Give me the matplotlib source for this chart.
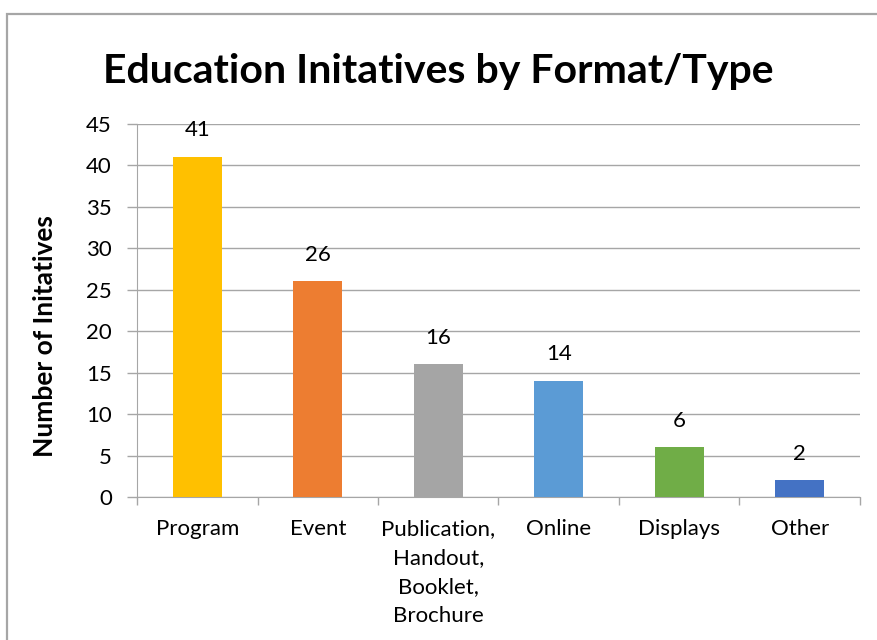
import matplotlib
matplotlib.use("Agg")
from matplotlib import pyplot as plt
from matplotlib.patches import Rectangle

# Dati
categorie = ["Program", "Event", "Publication,\nHandout,\nBooklet,\nBrochure", "Online", "Displays", "Other"]
valori = [41, 26, 16, 14, 6, 2]
colori = ["#FFC000", "#ED7D31", "#A5A5A5", "#5B9BD5", "#70AD47", "#4472C4"]
y_ticks = [0, 5, 10, 15, 20, 25, 30, 35, 40, 45]


def main() -> None:
    plt.rcParams["font.family"] = ["Lato", "DejaVu Sans"]

    fig = plt.figure(figsize=(8.78, 6.4), dpi=100)
    ax = fig.add_axes([137 / 878, 143 / 640, 723 / 878, 373 / 640])

    # Cornice del grafico
    fig.patches.append(Rectangle((7 / 878, -0.1), 1.2, 1.1 - 14 / 640, transform=fig.transFigure,
                                 fill=False, edgecolor="#A6A6A6", linewidth=1.6))

    x = list(range(len(categorie)))
    barre = ax.bar(x, valori, width=0.405, color=colori, zorder=3)
    for b, v in zip(barre, valori):
        ax.annotate(str(v), (b.get_x() + b.get_width() / 2, v), xytext=(0, 12),
                    textcoords="offset points", ha="center", va="bottom", fontsize=16)

    ax.set_xlim(-0.5, len(categorie) - 0.5)
    ax.set_ylim(0, 45)
    ax.set_yticks(y_ticks)
    ax.set_xticks([i - 0.5 for i in range(len(categorie) + 1)], minor=False)
    ax.set_xticklabels([])
    ax.set_xticks(x, minor=True)
    ax.set_xticklabels(categorie, minor=True, fontsize=16, linespacing=1.55, va="top")
    ax.tick_params(axis="x", which="minor", length=0, pad=16)
    ax.tick_params(axis="x", which="major", length=6, color="#A6A6A6", width=1)
    ax.tick_params(axis="y", length=7, color="#A6A6A6", width=1, labelsize=16, pad=11)

    ax.grid(axis="y", color="#A6A6A6", linewidth=1, zorder=0)
    for s in ["top", "right"]:
        ax.spines[s].set_visible(False)
    ax.spines["left"].set_color("#A6A6A6")
    ax.spines["bottom"].set_color("#A6A6A6")

    ax.set_ylabel("Number of Initatives", fontsize=19, fontweight="bold")
    ax.yaxis.set_label_coords(-0.111, 0.432)
    fig.text(0.499, 0.889, "Education Initatives by Format/Type", ha="center", va="center",
             fontsize=29.5, fontweight="bold")

    fig.savefig("out.png", dpi=100)
    return


if __name__ == "__main__":
    main()
